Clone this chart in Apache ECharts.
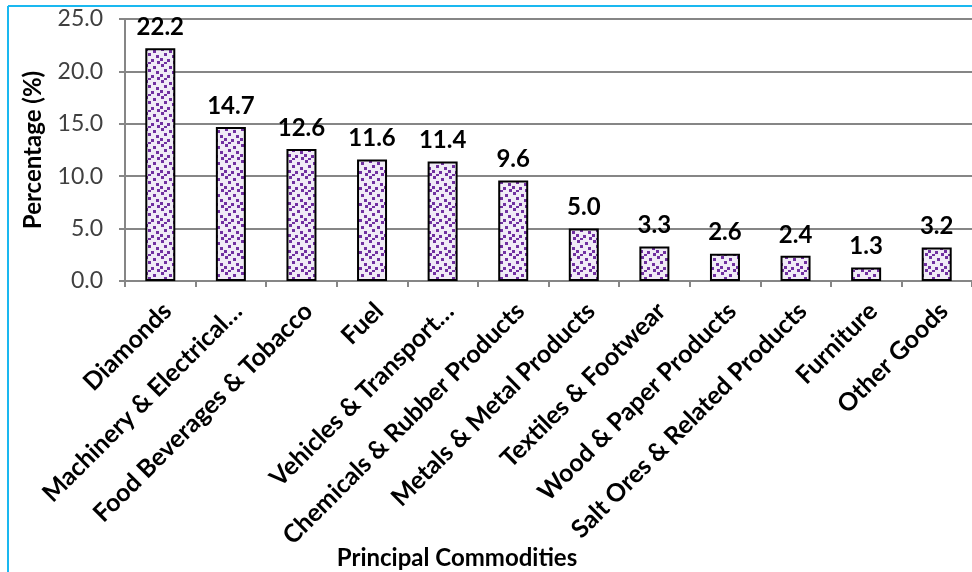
<!DOCTYPE html>
<html><head><meta charset="utf-8">
<script src="https://cdn.jsdelivr.net/npm/echarts@6/dist/echarts.min.js"></script>
<style>html,body{margin:0;padding:0;background:#fff}#c{width:972px;height:572px}</style>
</head><body><div id="c"></div>
<script>
var categories = ["Diamonds","Machinery & Electrical…","Food Beverages & Tobacco","Fuel","Vehicles & Transport…","Chemicals & Rubber Products","Metals & Metal Products","Textiles & Footwear","Wood & Paper Products","Salt Ores & Related Products","Furniture","Other Goods"];
var values = [22.2,14.7,12.6,11.6,11.4,9.6,5.0,3.3,2.6,2.4,1.3,3.2];
var yTicks = [0,5,10,15,20,25];

function makePattern(){
  var c = document.createElement('canvas');
  c.width = 16; c.height = 16;
  var g = c.getContext('2d');
  g.fillStyle = '#f0ebf6'; g.fillRect(0,0,16,16);
  g.fillStyle = '#7030a0';
  var pts = [[1,0],[9,2],[4,5],[12,7],[0,10],[7,11],[13,13],[4,14]];
  pts.forEach(function(p){ g.fillRect(p[0],p[1],3,3); });
  return c;
}
var chart = echarts.init(document.getElementById('c'));
var font = 'Lato, "Open Sans", sans-serif';
chart.setOption({
  animation:false,
  backgroundColor:'#fff',
  grid:{left:125, right:-10, top:19, bottom:291},
  xAxis:{type:'category', data:categories, boundaryGap:true,
    axisLine:{lineStyle:{color:'#868686', width:2}},
    axisTick:{show:true, length:6, lineStyle:{color:'#868686', width:2}},
    axisLabel:{rotate:45, margin:19, lineHeight:20, interval:0, fontFamily:font, fontWeight:'bold', fontSize:25, color:'#000',
      formatter:function(v){return '\n' + v;}}
  },
  yAxis:{type:'value', min:0, max:25, interval:5,
    axisLine:{show:true, lineStyle:{color:'#868686', width:2}},
    axisTick:{show:true, length:6, lineStyle:{color:'#868686', width:2}},
    splitLine:{lineStyle:{color:'#868686', width:2}},
    axisLabel:{formatter:function(v){return v.toFixed(1);}, margin:22, fontFamily:font, fontSize:23, color:'#404040'}
  },
  series:[{type:'bar', data:values, barWidth:30,
    itemStyle:{color:{image:makePattern(), repeat:'repeat'}, borderColor:'#000', borderWidth:2},
    label:{show:true, position:'top', distance:9, fontFamily:font, fontWeight:'bold', fontSize:24, color:'#000',
      formatter:function(p){return p.value.toFixed(1);}}
  }],
  graphic:[
    {type:'line', shape:{x1:8,y1:6,x2:972,y2:6}, style:{stroke:'#1ab8f0', lineWidth:2}},
    {type:'line', shape:{x1:8,y1:6,x2:8,y2:572}, style:{stroke:'#1ab8f0', lineWidth:2}},
    {type:'text', style:{text:'Principal Commodities', x:457, y:558, align:'center', verticalAlign:'middle', font:'bold 24px '+font, fill:'#000'}},
    {type:'text', style:{text:'Percentage (%)', x:0, y:0, align:'center', verticalAlign:'middle', font:'bold 24px '+font, fill:'#000'}, x:33, y:150, rotation:Math.PI/2}
  ]
});
</script></body></html>
